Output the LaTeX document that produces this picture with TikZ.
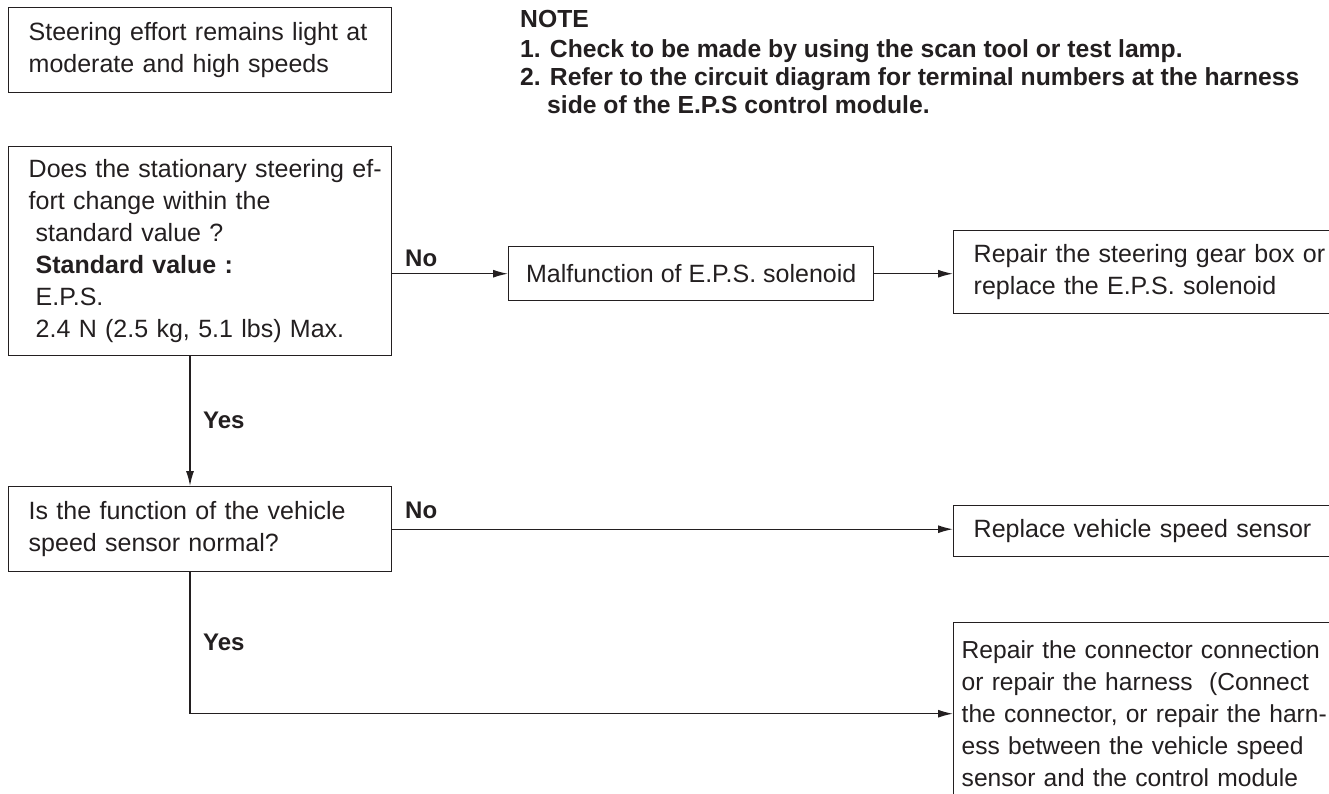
\documentclass[tikz,border=0pt]{standalone}
\usepackage{fontspec}
\setmainfont{Liberation Sans}
\usetikzlibrary{arrows.meta,calc}
\definecolor{ink}{HTML}{231F20}
\begin{document}
\begin{tikzpicture}[x=1pt,y=-1pt,
  box/.style={draw=ink, line width=1.4pt, rectangle, inner xsep=20pt, inner ysep=0pt,
    align=left, anchor=north west, font=\fontsize{25}{32}\selectfont, text=ink},
  cbox/.style={draw=ink, line width=1.4pt, rectangle, inner sep=0pt,
    align=center, anchor=north west, font=\fontsize{25}{32}\selectfont, text=ink},
  lbl/.style={font=\fontsize{24}{28}\selectfont\bfseries, text=ink, anchor=base west, inner sep=0pt},
  note/.style={font=\fontsize{24.7}{28}\selectfont\bfseries, text=ink, anchor=base west, inner sep=0pt},
  arr/.style={draw=ink, line width=1.4pt, -{Latex[length=15pt,width=8pt]}},
  ln/.style={draw=ink, line width=1.4pt}]
\useasboundingbox (0,0) rectangle (1329,793);
\fill[white] (0,0) rectangle (1329,793);
\clip (0,0) rectangle (1329,793);

% left column
\node[box, text width=343pt, minimum height=85pt] (b1) at (8,7)
  {\mbox{Steering effort remains light at}\\\mbox{moderate and high speeds}};
\node[box, text width=343pt, minimum height=209pt] (b2) at (8,146)
  {\mbox{Does the stationary steering ef-}\\\mbox{fort change within the}\\
   \mbox{\hspace*{7pt}standard value ?}\\\mbox{\hspace*{7pt}\textbf{Standard value :}}\\
   \mbox{\hspace*{7pt}E.P.S.}\\\mbox{\hspace*{7pt}2.4 N (2.5 kg, 5.1 lbs) Max.}};
\node[box, text width=343pt, minimum height=85pt] (b3) at (8,486)
  {\mbox{Is the function of the vehicle}\\\mbox{speed sensor normal?}};

% middle
\node[cbox, minimum width=365pt, minimum height=54pt] (mal) at (508,246)
  {Malfunction of E.P.S. solenoid};

% right column (clipped at the picture edge)
\node[box, text width=420pt, minimum height=83pt] (rep1) at (953,230)
  {Repair the steering gear box or\\replace the E.P.S. solenoid};
\node[box, text width=420pt, minimum height=51pt] (rs) at (953,505)
  {Replace vehicle speed sensor};
\node[box, inner xsep=8pt, text width=420pt, minimum height=182pt,
      font=\fontsize{24.6}{32}\selectfont] (rc) at (953,622)
  {Repair the connector connection\\or repair the harness\ \ (Connect\\the connector, or repair the harn-\\ess between the vehicle speed\\sensor and the control module};

% note
\node[note] (n0) at (520,27) {NOTE};
\node[note] (n1) at (520,57) {1. Check to be made by using the scan tool or test lamp.};
\node[note] (n2) at (520,85) {2. Refer to the circuit diagram for terminal numbers at the harness};
\node[note] (n3) at (547,113) {side of the E.P.S control module.};

% connectors
\coordinate (xl) at (190,0);
\draw[arr] (b2.south -| xl) -- (b3.north -| xl);
\draw[arr] (b2.east |- mal.west) -- (mal.west);
\draw[arr] (mal.east) -- (mal.east -| rep1.west);
\draw[arr] (b3.east) -- (b3.east -| rs.west);
\draw[arr] (b3.south -| xl) |- (rc.west);

% labels
\node[lbl] (no1) at (405,266) {No};
\node[lbl] (yes1) at (203,428) {Yes};
\node[lbl] (no2) at (405,518) {No};
\node[lbl] (yes2) at (203,650) {Yes};
\end{tikzpicture}
\end{document}
